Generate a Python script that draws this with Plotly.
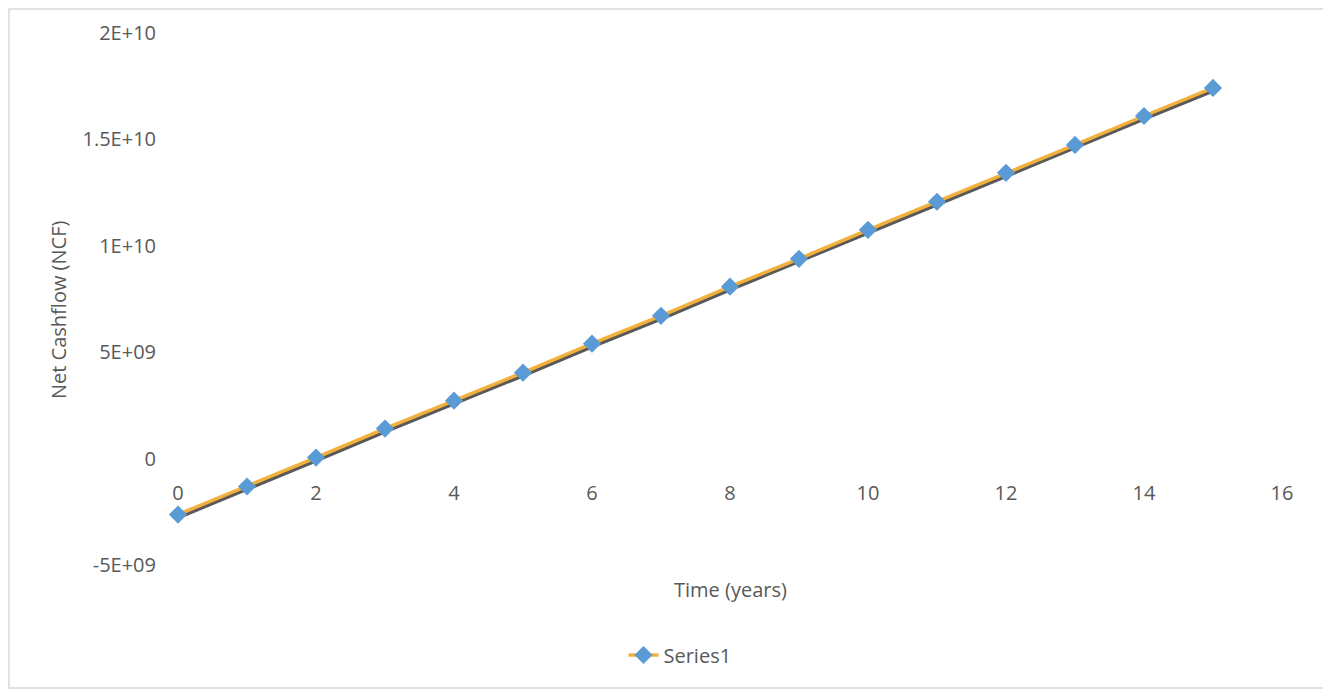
import plotly.graph_objects as go

years = list(range(16))
ncf = [-2.63e9, -1.31e9, 0.05e9, 1.41e9, 2.72e9, 4.04e9, 5.40e9, 6.71e9,
       8.08e9, 9.39e9, 10.75e9, 12.07e9, 13.43e9, 14.74e9, 16.10e9, 17.42e9]
series_name = "Series1"
y_tickvals = [-5e9, 0, 5e9, 1e10, 1.5e10, 2e10]
y_ticktext = ["-5E+09", "0", "5E+09", "1E+10", "1.5E+10", "2E+10"]
x_tickvals = [0, 2, 4, 6, 8, 10, 12, 14, 16]

# page body has an 8px margin: figure origin sits at window (8, 8)
OFF = 8
W, H = 1331 - OFF, 692 - OFF
ML = 178 - OFF
MT = 33 - OFF
SH = 2  # shadow offset in px
MR = W - (1282 - OFF + SH)
MB = H - (565 - OFF + SH)
pw = W - ML - MR
ph = H - MT - MB
ex = SH / pw
ey = SH / ph

FONT = "Open Sans"
FS = 20
TXT = "#595959"

fig = go.Figure()
# shadow of the series line (separate subplot, shifted, underneath)
fig.add_trace(go.Scatter(x=years, y=ncf, mode="lines",
                         line=dict(color="rgba(60,60,60,0.85)", width=4),
                         showlegend=False, hoverinfo="skip", cliponaxis=False))
# main series on its own subplot (drawn on top)
fig.add_trace(go.Scatter(x=years, y=ncf, mode="lines+markers", name=series_name,
                         xaxis="x2", yaxis="y2", cliponaxis=False,
                         line=dict(color="#F2B03D", width=3.5),
                         marker=dict(symbol="diamond", size=14, color="#5B9BD5")))

zero_pos = ey + (1 - ey) * (0 - y_tickvals[0]) / (y_tickvals[-1] - y_tickvals[0])
tf = dict(family=FONT, size=FS, color=TXT)

fig.update_layout(
    width=W, height=H,
    margin=dict(l=ML, r=MR, t=MT, b=MB),
    paper_bgcolor="white", plot_bgcolor="rgba(0,0,0,0)",
    font=tf,
    xaxis=dict(domain=[ex, 1], range=[0, 16], anchor="y", visible=False),
    yaxis=dict(domain=[0, 1 - ey], range=[y_tickvals[0], y_tickvals[-1]],
               anchor="x", visible=False),
    xaxis2=dict(domain=[0, 1 - ex], range=[0, 16], tickvals=x_tickvals,
                anchor="free", position=zero_pos,
                showgrid=False, zeroline=False, showline=False,
                ticks="outside", ticklen=16, tickcolor="rgba(0,0,0,0)",
                tickfont=tf),
    yaxis2=dict(domain=[ey, 1], range=[y_tickvals[0], y_tickvals[-1]],
                tickvals=y_tickvals, ticktext=y_ticktext,
                anchor="x2", side="left", showgrid=False, zeroline=False,
                showline=False, ticks="outside", ticklen=17,
                tickcolor="rgba(0,0,0,0)", tickfont=tf),
    legend=dict(orientation="h", xref="container", yref="container",
                x=(680 - OFF) / W, y=1 - (655 - OFF) / H,
                xanchor="center", yanchor="middle", font=tf),
    annotations=[
        dict(text="Time (years)", xref="paper", yref="paper",
             x=(730 - 178) / pw, y=-(587 - 565) / ph, xanchor="center",
             yanchor="middle", showarrow=False, font=tf),
        dict(text="Net Cashflow (NCF)", xref="paper", yref="paper",
             x=-(178 - 58) / pw, y=1 - (310 - 33) / ph, xanchor="center",
             yanchor="middle", textangle=-90, showarrow=False, font=tf),
    ],
    shapes=[dict(type="rect", xref="paper", yref="paper",
                 x0=-(ML - 1) / pw, x1=(1325 - OFF - ML) / pw,
                 y0=-(MB - (H - 680)) / ph, y1=(ph + MT - 1) / ph,
                 line=dict(color="#D9D9D9", width=1.5), layer="below")],
)

fig.write_html("out.html")
